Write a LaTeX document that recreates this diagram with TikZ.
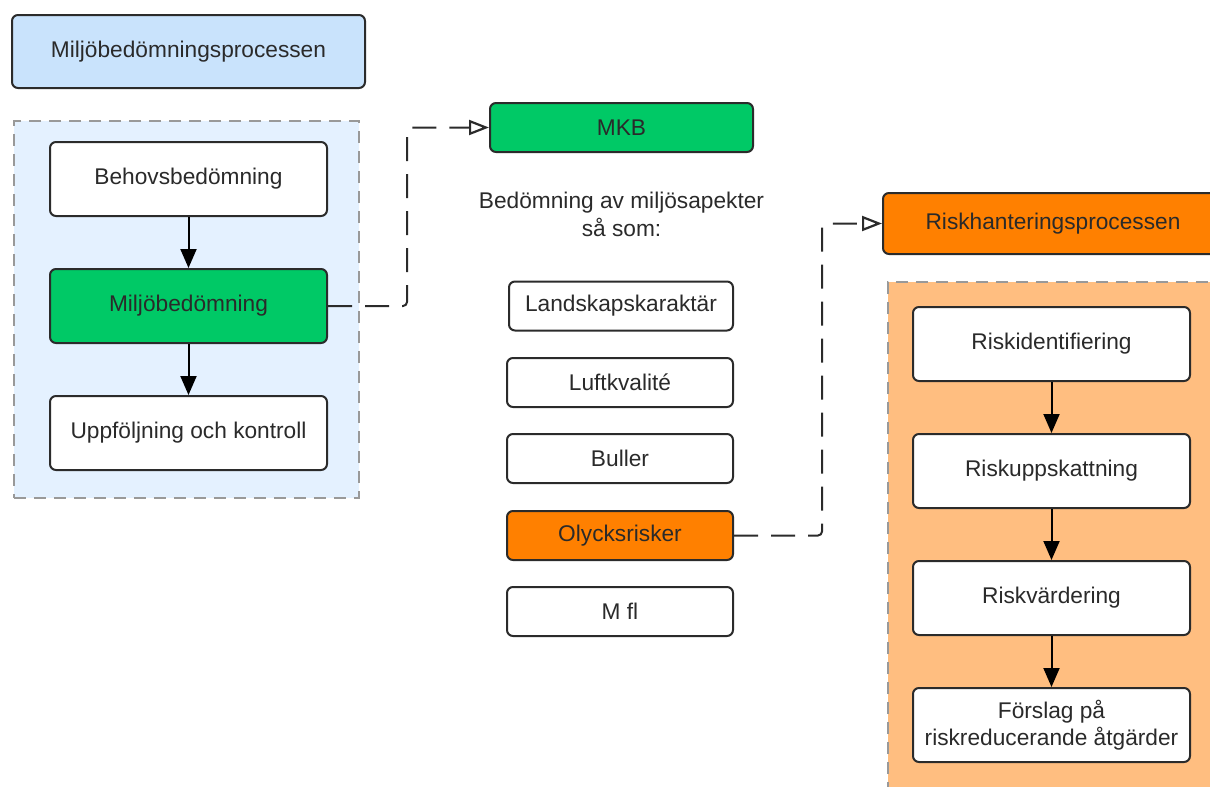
\documentclass[tikz,border=0pt]{standalone}
\usepackage{fontspec}
\setmainfont{Liberation Sans}
\usetikzlibrary{arrows.meta}
\definecolor{txt}{HTML}{2A2A2A}
\definecolor{bord}{HTML}{2B2B2B}
\definecolor{lblue}{HTML}{C9E3FC}
\definecolor{pblue}{HTML}{E4F1FF}
\definecolor{mgreen}{HTML}{00C966}
\definecolor{morange}{HTML}{FF8000}
\definecolor{porange}{HTML}{FFBE80}
\definecolor{dgrey}{HTML}{999999}
\tikzset{
  box/.style={draw=bord, line width=2pt, rounded corners=6pt, inner sep=0pt,
    text=txt, align=center, font=\fontsize{22.7}{27}\selectfont},
  wbox/.style={box, fill=white},
  container/.style={draw=dgrey, line width=2pt, dash pattern=on 12pt off 8pt, inner sep=0pt},
  flow/.style={draw=black, line width=2pt, -{Triangle[length=19pt,width=16pt]}},
  dconn/.style={draw=bord, line width=2pt, dash pattern=on 24pt off 13pt, rounded corners=4pt,
    -{Triangle[open,length=20pt,width=15pt,line width=2.2pt]}},
}
\begin{document}
\begin{tikzpicture}[x=1pt,y=-1pt]
\useasboundingbox (0,0) rectangle (1210,787);
\clip (0,0) rectangle (1210,787);
% left group
\node[box, fill=lblue, minimum width=353pt, minimum height=73pt] (title) at (188.5,51.5) {Miljöbedömningsprocessen};
\node[container, fill=pblue, minimum width=345pt, minimum height=377pt] (lcont) at (186.5,309.5) {};
\node[wbox, minimum width=277pt, minimum height=74pt] (behov) at (188.5,179) {Behovsbedömning};
\node[box, fill=mgreen, minimum width=277pt, minimum height=74pt] (milj) at (188.5,306) {Miljöbedömning};
\node[wbox, minimum width=277pt, minimum height=74pt] (uppf) at (188.5,433) {Uppföljning och kontroll};
\draw[flow] (behov) -- (milj);
\draw[flow] (milj) -- (uppf);
% middle
\node[box, fill=mgreen, minimum width=263pt, minimum height=49pt] (mkb) at (621.5,127.5) {MKB};
\node[text=txt, align=center, font=\fontsize{22.7}{28}\selectfont, inner sep=0pt] (desc) at (621.5,214) {Bedömning av miljösapekter\\så som:};
\node[wbox, minimum width=224pt, minimum height=49pt] (land) at (621,306) {Landskapskaraktär};
\node[wbox, minimum width=226pt, minimum height=49pt] (luft) at (620,382.5) {Luftkvalité};
\node[wbox, minimum width=226pt, minimum height=49pt] (bull) at (620,458.5) {Buller};
\node[box, fill=morange, minimum width=226pt, minimum height=49pt] (olyck) at (620,535.5) {Olycksrisker};
\node[wbox, minimum width=226pt, minimum height=49pt] (mfl) at (620,611.5) {M fl};
% right group
\node[box, fill=morange, minimum width=340pt, minimum height=61pt] (riskh) at (1053,223.5) {Riskhanteringsprocessen};
\node[container, fill=porange, minimum width=340pt, minimum height=540pt] (rcont) at (1058,552) {};
\node[wbox, minimum width=277pt, minimum height=74pt] (rid) at (1051.5,344) {Riskidentifiering};
\node[wbox, minimum width=277pt, minimum height=74pt] (rupp) at (1051.5,471) {Riskuppskattning};
\node[wbox, minimum width=277pt, minimum height=74pt] (rvar) at (1051.5,598) {Riskvärdering};
\node[wbox, minimum width=277pt, minimum height=74pt] (rfor) at (1051.5,725) {Förslag på\\riskreducerande åtgärder};
\draw[flow] (rid) -- (rupp);
\draw[flow] (rupp) -- (rvar);
\draw[flow] (rvar) -- (rfor);
% dashed connectors
\coordinate (c1) at (407,306);
\coordinate (c2) at (822,535.5);
\draw[dconn] (milj.east) -- (c1) |- (mkb.west);
\draw[dconn] (olyck.east) -- (c2) |- (riskh.west);
\end{tikzpicture}
\end{document}
